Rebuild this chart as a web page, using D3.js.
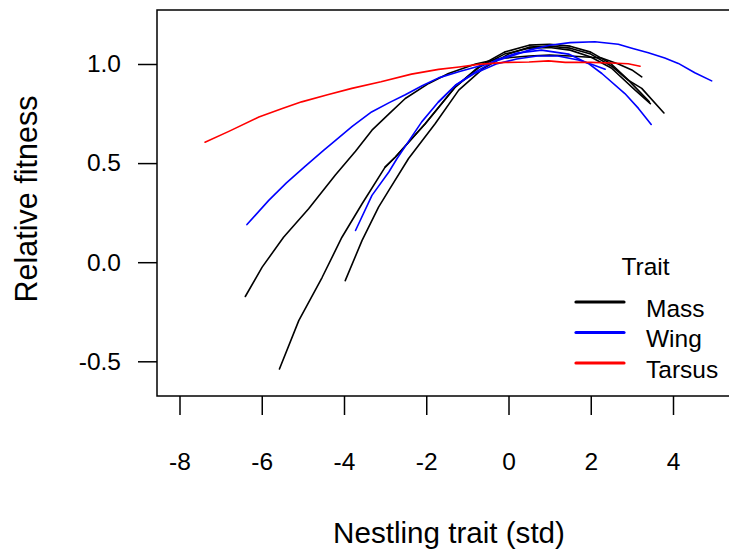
<!DOCTYPE html>
<html>
<head>
<meta charset="utf-8">
<script src="https://cdn.jsdelivr.net/npm/d3@7/dist/d3.min.js"></script>
<style>
  html, body { margin: 0; padding: 0; background: #fff; }
  svg { display: block; font-family: "Liberation Sans", Arial, sans-serif; }
</style>
</head>
<body>
<svg id="chart" width="729" height="555"></svg>
<script>
// Relative fitness curves per nestling trait (standardised), one line per fitted model
const traits = ["Mass", "Wing", "Tarsus"];
const xTicks = [-8, -6, -4, -2, 0, 2, 4];
const yTicks = [-0.5, 0.0, 0.5, 1.0];

const mass1 = [[-6.40,-0.173],[-5.99,-0.025],[-5.47,0.126],[-4.86,0.27],[-4.21,0.44],[-3.72,0.56],[-3.32,0.666],[-2.9,0.75],[-2.51,0.826],[-1.94,0.902],[-1.46,0.952],[-0.8,1.0],[-0.2,1.028],[0.5,1.04],[1.0,1.045],[1.5,1.04],[2.26,1.03],[2.67,1.0],[3.0,0.97],[3.24,0.935]];
const mass2 = [[-5.57,-0.539],[-5.10,-0.295],[-4.53,-0.076],[-4.05,0.126],[-3.56,0.295],[-3.0,0.48],[-2.75,0.531],[-2.02,0.70],[-1.29,0.885],[-0.7,0.99],[-0.1,1.06],[0.5,1.095],[1.0,1.10],[1.5,1.09],[2.0,1.06],[2.5,1.0],[2.91,0.92],[3.42,0.81]];
const mass3 = [[-3.97,-0.093],[-3.56,0.11],[-3.16,0.278],[-2.91,0.362],[-2.43,0.523],[-1.78,0.70],[-1.21,0.868],[-0.6,0.98],[0.0,1.05],[0.5,1.085],[1.0,1.09],[1.5,1.08],[2.0,1.05],[2.5,0.99],[2.9,0.92],[3.24,0.877],[3.78,0.753]];
const mass4 = [[-3.0,0.48],[-2.75,0.531],[-2.02,0.70],[-1.29,0.885],[-0.7,0.985],[-0.1,1.05],[0.5,1.08],[1.0,1.083],[1.5,1.07],[2.0,1.035],[2.5,0.98],[3.08,0.868],[3.45,0.80]];

const wing1 = [[-6.36,0.19],[-5.83,0.312],[-5.4,0.40],[-4.94,0.485],[-4.49,0.565],[-4.30,0.598],[-3.8,0.685],[-3.33,0.758],[-2.9,0.805],[-2.51,0.845],[-2.1,0.89],[-1.70,0.93],[-1.21,0.961],[-0.49,1.003],[0.0,1.035],[0.5,1.07],[1.0,1.095],[1.5,1.108],[2.1,1.112],[2.67,1.10],[3.0,1.08],[3.40,1.057],[3.8,1.03],[4.13,1.003],[4.53,0.956],[4.94,0.915]];
const wing2 = [[-3.72,0.16],[-3.32,0.337],[-2.91,0.455],[-2.71,0.523],[-2.11,0.708],[-1.70,0.809],[-1.29,0.893],[-0.8,0.96],[-0.3,1.02],[0.2,1.055],[0.8,1.07],[1.46,1.05],[1.94,1.003],[2.27,0.952],[2.83,0.851],[3.16,0.776],[3.47,0.695]];
const wing3 = [[-1.70,0.809],[-1.29,0.893],[-0.8,0.955],[-0.3,1.0],[0.2,1.025],[0.7,1.04],[1.2,1.04],[1.7,1.02],[2.0,1.0],[2.35,0.974]];

const tarsus1 = [[-7.38,0.605],[-6.8,0.66],[-6.07,0.733],[-5.5,0.775],[-5.03,0.809],[-4.4,0.845],[-3.81,0.877],[-3.1,0.91],[-2.36,0.949],[-1.7,0.973],[-1.2,0.985],[-0.73,0.998],[-0.08,1.008],[0.5,1.01],[0.97,1.016],[1.38,1.008],[2.0,1.008],[2.5,1.005],[2.91,1.001],[3.2,0.989]];

const curves = [
  { trait: "Mass", pts: mass1 }, { trait: "Mass", pts: mass2 },
  { trait: "Mass", pts: mass3 }, { trait: "Mass", pts: mass4 },
  { trait: "Wing", pts: wing3 }, { trait: "Wing", pts: wing1 }, { trait: "Wing", pts: wing2 },
  { trait: "Tarsus", pts: tarsus1 }
];

const colour = { Mass: "#000000", Wing: "#0000ff", Tarsus: "#ff0000" };

const svg = d3.select("#chart");

// Plot region
const box = { left: 157, top: 10, right: 745, bottom: 396 };
const x = d3.scaleLinear().domain([-8, 4]).range([179.5, 673]);
const y = d3.scaleLinear().domain([-0.5, 1.0]).range([361.3, 64]);

svg.append("defs").append("clipPath").attr("id", "plotclip")
  .append("rect").attr("x", box.left).attr("y", box.top)
  .attr("width", box.right - box.left).attr("height", box.bottom - box.top);

// Curves
const line = d3.line().x(d => x(d[0])).y(d => y(d[1])).curve(d3.curveLinear);
svg.append("g").attr("clip-path", "url(#plotclip)")
  .selectAll("path").data(curves).join("path")
  .attr("d", d => line(d.pts))
  .attr("fill", "none")
  .attr("stroke", d => colour[d.trait])
  .attr("stroke-width", 1.6)
  .attr("stroke-linejoin", "round")
  .attr("stroke-linecap", "round");

// Frame
svg.append("rect")
  .attr("x", box.left).attr("y", box.top)
  .attr("width", box.right - box.left).attr("height", box.bottom - box.top)
  .attr("fill", "none").attr("stroke", "#000").attr("stroke-width", 1.5);

// Axes
const tickFont = 24.5;
const xAxis = d3.axisBottom(x).tickValues(xTicks).tickSize(19).tickPadding(38)
  .tickFormat(d3.format("d"));
const gx = svg.append("g").attr("transform", `translate(0,${box.bottom})`).call(xAxis);
gx.select(".domain").remove();
gx.selectAll(".tick line").attr("stroke", "#000").attr("stroke-width", 1.5);
gx.selectAll(".tick text").attr("font-size", tickFont).attr("fill", "#000")
  .attr("font-family", "Liberation Sans, Arial, sans-serif")
  .text(d => d < 0 ? "-" + Math.abs(d) : d);

const yAxis = d3.axisLeft(y).tickValues(yTicks).tickSize(19).tickPadding(17)
  .tickFormat(d3.format(".1f"));
const gy = svg.append("g").attr("transform", `translate(${box.left},0)`).call(yAxis);
gy.select(".domain").remove();
gy.selectAll(".tick line").attr("stroke", "#000").attr("stroke-width", 1.5);
gy.selectAll(".tick text").attr("font-size", tickFont).attr("fill", "#000")
  .attr("font-family", "Liberation Sans, Arial, sans-serif")
  .text(d => d < 0 ? "-" + d3.format(".1f")(Math.abs(d)) : d3.format(".1f")(d));

// Axis titles
svg.append("text")
  .attr("x", 449).attr("y", 543)
  .attr("text-anchor", "middle").attr("font-size", 29.6)
  .text("Nestling trait (std)");
svg.append("text")
  .attr("transform", "translate(37,199) rotate(-90)")
  .attr("text-anchor", "middle").attr("font-size", 30.5)
  .text("Relative fitness");

// Legend
const legend = svg.append("g");
legend.append("text")
  .attr("x", 645.5).attr("y", 275)
  .attr("text-anchor", "middle").attr("font-size", tickFont)
  .text("Trait");
const rows = legend.selectAll("g.row").data(traits).join("g")
  .attr("class", "row")
  .attr("transform", (d, i) => `translate(0,${i * 30.5})`);
rows.append("line")
  .attr("x1", 576).attr("x2", 624).attr("y1", 302).attr("y2", 302)
  .attr("stroke", d => colour[d]).attr("stroke-width", 3.2)
  .attr("stroke-linecap", "round");
rows.append("text")
  .attr("x", 646).attr("y", 316.5)
  .attr("font-size", tickFont)
  .text(d => d);
</script>
</body>
</html>
